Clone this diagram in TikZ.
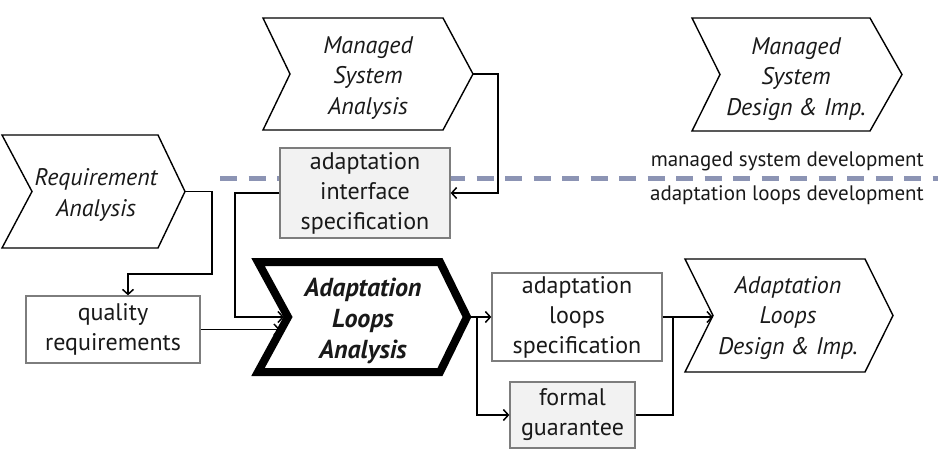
\documentclass[tikz,border=0pt]{standalone}
\usepackage{fontspec}
\setmainfont{PT Sans}
\usetikzlibrary{arrows.meta}
\definecolor{dashblue}{RGB}{140,148,180}
\definecolor{boxgray}{RGB}{125,125,125}
\definecolor{lightfill}{RGB}{242,242,242}
\definecolor{txt}{RGB}{25,25,25}
\begin{document}
\begin{tikzpicture}[x=1pt,y=-1pt,
  chevline/.style={draw=black, line width=1.4pt, line join=miter},
  boldchevline/.style={draw=black, line width=8pt, line join=miter},
  boxnode/.style={draw=boxgray, line width=1.3pt, inner sep=0pt, align=center, text=txt,
     font=\fontsize{24}{30}\selectfont},
  chevtext/.style={inner sep=0pt, align=center, text=txt, font=\fontsize{24}{30.5}\selectfont\itshape},
  conn/.style={draw=black, line width=1.5pt, -{Straight Barb[length=5pt,width=11pt,line width=1.5pt]}},
  plainconn/.style={draw=black, line width=1.5pt},
  sidelabel/.style={inner sep=0pt, anchor=east, text=txt, font=\fontsize{21}{24}\selectfont},
  sepline/.style={draw=dashblue, line width=5pt, dash pattern=on 17pt off 11.5pt}]
\useasboundingbox (0,0) rectangle (938,459);

% separator
\draw[sepline] (220,178) -- (938,178);
\node[sidelabel] (lblms) at (924,161) {managed system development};
\node[sidelabel] (lblal) at (924,195) {adaptation loops development};

% chevrons
\draw[chevline] (2,135) -- (158,135) -- (185,191.5) -- (158,248) -- (2,248) -- (32,191.5) -- cycle;
\node[chevtext] (ra) at (96,195) {Requirement\\Analysis};
\coordinate (ra-tip) at (185,191.5);

\draw[chevline] (263,18) -- (443,18) -- (473,74) -- (443,130) -- (263,130) -- (290,74) -- cycle;
\node[chevtext] (msa) at (368,78) {Managed\\System\\Analysis};
\coordinate (msa-tip) at (473,74);

\draw[chevline] (692,18) -- (870,18) -- (902,74.5) -- (870,131) -- (692,131) -- (720,74.5) -- cycle;
\node[chevtext] (msd) at (796,79) {Managed\\System\\Design \& Imp.};

\draw[chevline] (685,259) -- (865,259) -- (893,315.5) -- (865,372) -- (685,372) -- (713,315.5) -- cycle;
\node[chevtext] (ald) at (788,318) {Adaptation\\Loops\\Design \& Imp.};
\coordinate (ald-in) at (713,317);

\draw[boldchevline] (258,262) -- (440,262) -- (467,317) -- (440,372) -- (258,372) -- (288,317) -- cycle;
\node[chevtext, font=\fontsize{26}{31}\selectfont\bfseries\itshape] (ala) at (363,321) {Adaptation\\Loops\\Analysis};
\coordinate (ala-tip) at (471,317);
\coordinate (ala-in1) at (284,317);
\coordinate (ala-in2) at (280,329.5);

% boxes
\node[boxnode, fill=lightfill, minimum width=170pt, minimum height=90pt] (ais) at (365,193) {adaptation\\interface\\specification};
\node[boxnode, fill=white, minimum width=174pt, minimum height=67pt] (qr) at (113,329.5) {quality\\requirements};
\node[boxnode, fill=white, minimum width=170pt, minimum height=88pt] (als) at (577,317) {adaptation\\loops\\specification};
\node[boxnode, fill=lightfill, minimum width=125pt, minimum height=66pt] (fg) at (572.5,415) {formal\\guarantee};

% helper coordinates
\coordinate (msa-r) at (498,74);
\coordinate (ra-d) at (212,274);
\coordinate (ais-l) at (235,317);
\coordinate (br) at (477,317);
\coordinate (jn) at (673,317);

% connectors
\draw[conn] (msa-tip) -- (msa-r) |- (ais.east);
\draw[conn] (ra-tip) -| (ra-d) -| ([xshift=15pt]qr.north);
\draw[conn] (ais.west) -| (ais-l) -- (ala-in1);
\draw[conn] (qr.east) -- (ala-in2);
\draw[conn] (ala-tip) -- (als.west);
\draw[conn] (br) |- (fg.west);
\draw[conn] (als.east) -- (ald-in);
\draw[plainconn] (fg.east) -| (jn);
\end{tikzpicture}
\end{document}
